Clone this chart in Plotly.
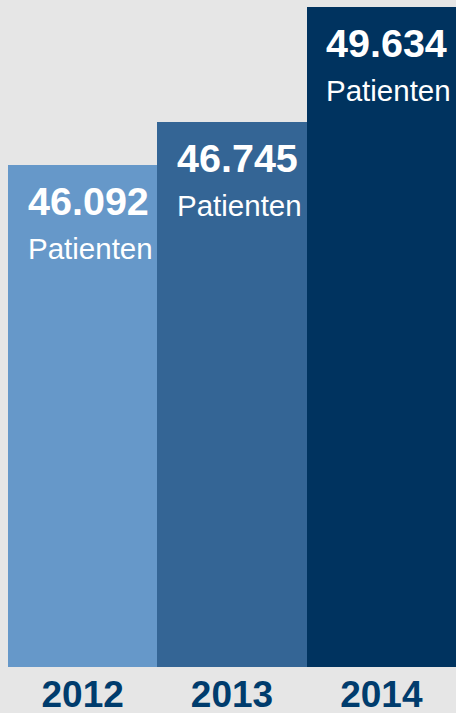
import plotly.graph_objects as go

years = ["2012", "2013", "2014"]
patients = [46092, 46745, 49634]
# bar lengths as drawn in the infographic (not to scale), % of the tallest bar
bar_lengths = [76.1, 82.6, 100.0]
unit_label = "Patienten"
bar_colors = ["#6698c9", "#346595", "#00335f"]

def fmt(v):
    return f"{v:,}".replace(",", ".")

positions = list(range(len(years)))

fig = go.Figure()
fig.add_trace(go.Bar(
    x=positions, y=bar_lengths, width=1.0,
    marker=dict(color=bar_colors, line=dict(width=0)),
    hoverinfo="skip",
))

annotations = []
for i, val, h in zip(positions, patients, bar_lengths):
    annotations.append(dict(
        x=i, y=h, xref="x", yref="y", xanchor="left", yanchor="top",
        xshift=-57, yshift=-12, showarrow=False,
        text=f"<b>{fmt(val)}</b>",
        font=dict(family="Liberation Sans, Arial, sans-serif", size=39.5, color="white"),
    ))
    annotations.append(dict(
        x=i, y=h, xref="x", yref="y", xanchor="left", yanchor="top",
        xshift=-57, yshift=-65, showarrow=False,
        text=unit_label,
        font=dict(family="Liberation Sans, Arial, sans-serif", size=29.5, color="white"),
    ))

fig.update_layout(
    width=456, height=713,
    margin=dict(l=8, r=0, t=0, b=46, autoexpand=False),
    paper_bgcolor="#e6e6e6", plot_bgcolor="#e6e6e6",
    bargap=0, showlegend=False,
    annotations=annotations,
    xaxis=dict(
        range=[-0.5, 2.5],
        tickmode="array",
        tickvals=positions,
        ticktext=[f"<b>{y}</b>" for y in years],
        showgrid=False, zeroline=False, showline=False, ticks="",
        tickangle=0,
        ticklabelstandoff=2,
        tickfont=dict(family="Liberation Sans, Arial, sans-serif",
                      size=37, color="#003c6d"),
        fixedrange=True,
    ),
    yaxis=dict(
        range=[0, 100 * 667 / 660], visible=False, showgrid=False, zeroline=False,
        fixedrange=True,
    ),
)

fig.write_html(
    "out.html",
    config={"staticPlot": True},
    post_script="document.body.style.margin='0';document.body.style.overflow='hidden';",
)
